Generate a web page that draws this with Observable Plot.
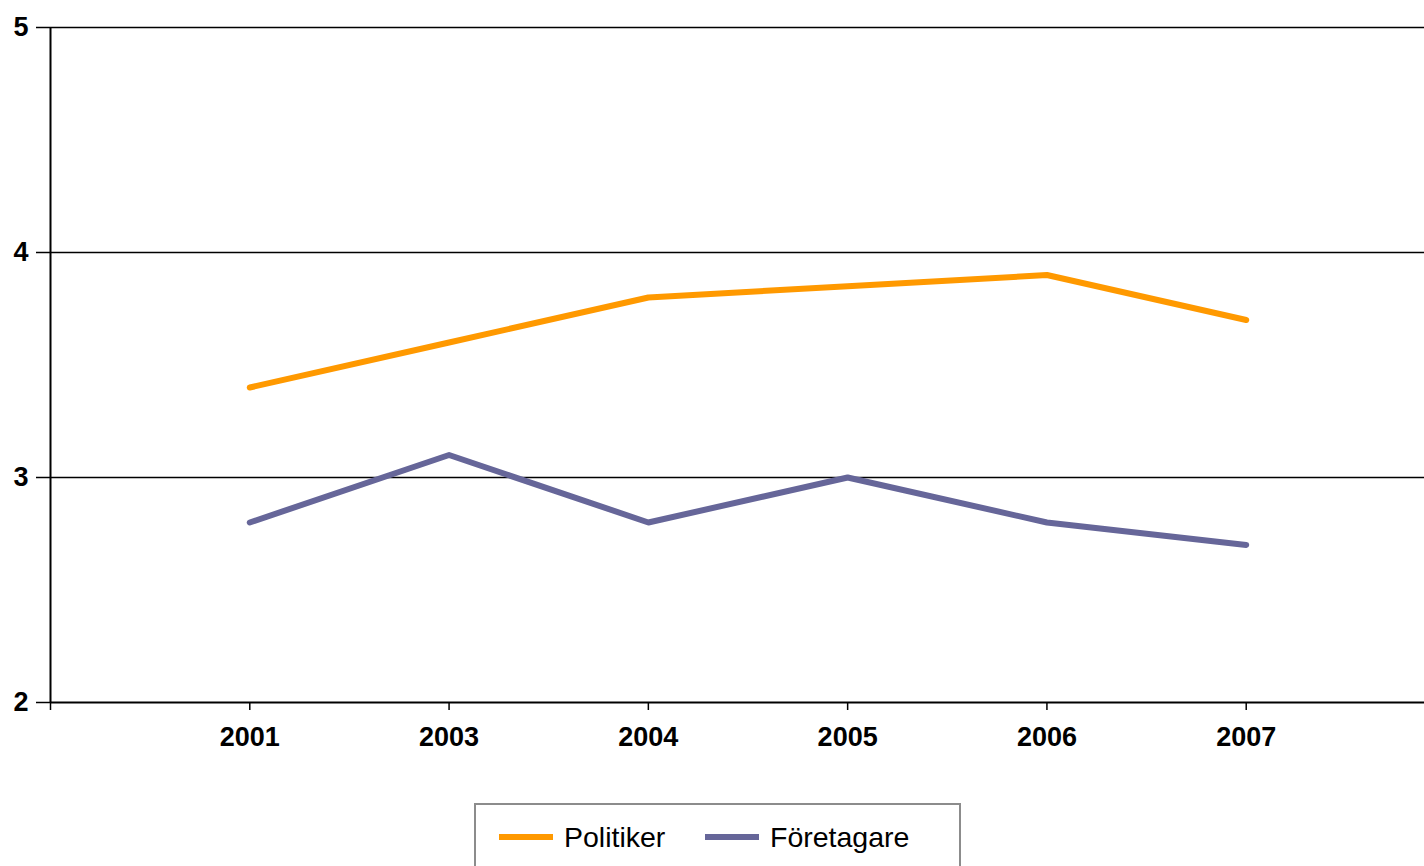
<!DOCTYPE html>
<html>
<head>
<meta charset="utf-8">
<script src="https://cdn.jsdelivr.net/npm/d3@7"></script>
<script src="https://cdn.jsdelivr.net/npm/@observablehq/plot@0.6"></script>
<style>
  html, body { margin: 0; padding: 0; background: #fff; overflow: hidden; width: 1424px; height: 866px; }
  #chart svg { display: block; }
  .legend {
    position: absolute; left: 474px; top: 803px; width: 487px; height: 100px;
    border: 2px solid #8c8c8c; box-sizing: border-box;
    font-family: "Liberation Sans", Arial, sans-serif; font-size: 28.5px; color: #000;
  }
  .item { position: absolute; top: 15px; display: flex; align-items: center; height: 34px; }
  .sw { display: inline-block; width: 54px; height: 6px; margin-right: 11px; }
</style>
</head>
<body>
<div id="chart"></div>
<div class="legend">
  <div class="item" style="left:23px"><span class="sw" style="background:#FF9900"></span><span id="l0"></span></div>
  <div class="item" style="left:229px"><span class="sw" style="background:#666699"></span><span id="l1"></span></div>
</div>
<script>
const years = ["2001", "2003", "2004", "2005", "2006", "2007"];
const seriesNames = ["Politiker", "Företagare"];
const politiker = [3.4, 3.6, 3.8, 3.85, 3.9, 3.7];
const foretagare = [2.8, 3.1, 2.8, 3.0, 2.8, 2.7];
const colors = ["#FF9900", "#666699"];
const yTicks = [2, 3, 4, 5];

const data = [];
years.forEach((y, i) => {
  data.push({idx: i + 1, year: y, value: politiker[i], series: seriesNames[0]});
  data.push({idx: i + 1, year: y, value: foretagare[i], series: seriesNames[1]});
});

document.getElementById("l0").textContent = seriesNames[0];
document.getElementById("l1").textContent = seriesNames[1];

const chart = Plot.plot({
  width: 1424,
  height: 790,
  marginLeft: 50,
  marginRight: 0,
  marginTop: 27,
  marginBottom: 88,
  style: {fontFamily: "'Liberation Sans', Arial, sans-serif", fontSize: "27px", fontWeight: "bold", color: "#000", background: "#fff"},
  x: {domain: [0, years.length + 1], range: [50, 1445], label: null},
  y: {domain: [2, 5], label: null},
  color: {domain: seriesNames, range: colors},
  marks: [
    Plot.ruleY([3, 4, 5], {stroke: "#000", strokeWidth: 1.5}),
    Plot.ruleY([2], {stroke: "#000", strokeWidth: 2}),
    Plot.ruleX([0], {y1: 2, y2: 5, stroke: "#000", strokeWidth: 2}),
    Plot.axisY({ticks: yTicks, tickFormat: d => String(d), tickSize: 14, tickPadding: 8, strokeWidth: 1.5, stroke: "#000", fontSize: 27, fontWeight: "bold", label: null}),
    Plot.axisX({ticks: d3.range(0, years.length + 1), tickFormat: d => d >= 1 && d <= years.length ? years[d - 1] : "", tickSize: 8, tickPadding: 16, strokeWidth: 1.5, stroke: "#000", fontSize: 27, fontWeight: "bold", label: null}),
    Plot.line(data, {x: "idx", y: "value", z: "series", stroke: "series", strokeWidth: 6, strokeLinejoin: "round", strokeLinecap: "round"})
  ]
});
document.getElementById("chart").appendChild(chart);
</script>
</body>
</html>
